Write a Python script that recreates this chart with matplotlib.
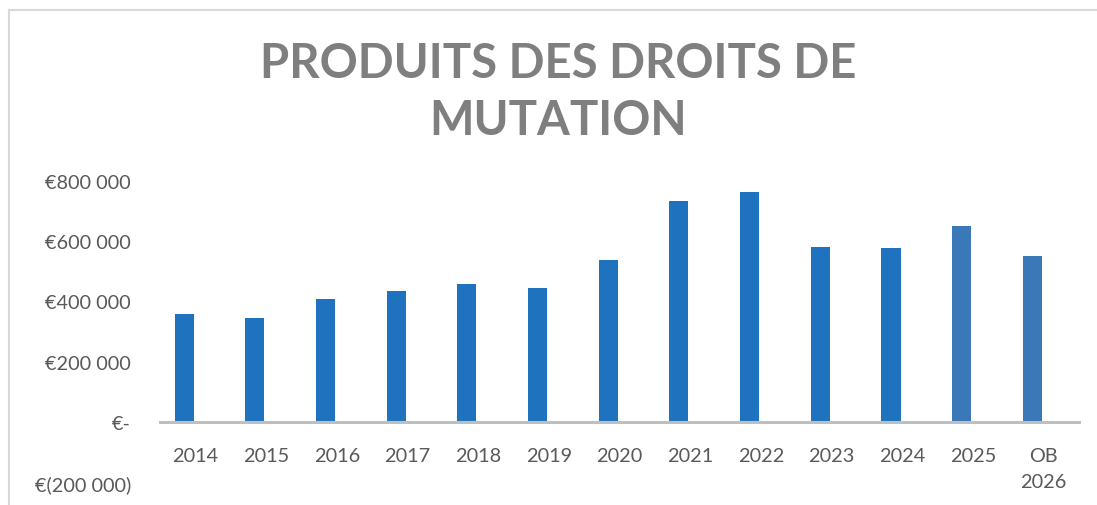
import matplotlib
matplotlib.use('Agg')
import matplotlib.pyplot as plt
from matplotlib.lines import Line2D

categories = ['2014', '2015', '2016', '2017', '2018', '2019', '2020',
              '2021', '2022', '2023', '2024', '2025', 'OB\n2026']
values = [357000, 345000, 408000, 434000, 458000, 443000, 537000,
          734000, 762000, 581000, 578000, 650000, 552000]
y_ticks = [-200000, 0, 200000, 400000, 600000, 800000]
y_labels = ['€(200 000)', '€-', '€200 000', '€400 000', '€600 000', '€800 000']
title_lines = ['PRODUITS DES DROITS DE', 'MUTATION']

plt.rcParams['font.family'] = ['Lato', 'DejaVu Sans']

fig = plt.figure(figsize=(10.97, 5.06), dpi=100)
ax = fig.add_axes([0.1459, 0.0441, 0.8377, 0.597])

colors = ['#1f73be'] * 11 + ['#3a78b8'] * 2
x = list(range(len(categories)))
ax.bar([i - 0.16 for i in x], values, width=0.27, color=colors, zorder=2)

ax.set_xlim(-0.5, len(categories) - 0.5)
ax.set_ylim(-200000, 800000)
ax.set_yticks(y_ticks)
ax.set_yticklabels(y_labels)
ax.set_xticks(x)
ax.set_xticklabels(categories)

for side in ['left', 'right', 'top']:
    ax.spines[side].set_visible(False)
ax.spines['bottom'].set_position(('data', 0))
ax.spines['bottom'].set_color('#bfbfbf')
ax.spines['bottom'].set_linewidth(2.2)
ax.spines['bottom'].set_zorder(3)

ax.tick_params(axis='x', length=0, pad=18, labelsize=14.3, labelcolor='#595959')
ax.tick_params(axis='y', length=0, pad=21, labelsize=14.3, labelcolor='#595959')
for lbl in ax.get_xticklabels():
    lbl.set_linespacing(1.6)

# title, two lines placed by baseline
for line, base in zip(title_lines, [78, 135]):
    fig.text(0.5087, 1 - base / 506, line, ha='center', va='baseline',
             fontsize=34, fontweight='bold', color='#7f7f7f')

# chart frame (cut off at right and bottom)
fig.add_artist(Line2D([9 / 1097, 1.0], [1 - 11 / 506, 1 - 11 / 506],
                      color='#d9d9d9', lw=1.5))
fig.add_artist(Line2D([9 / 1097, 9 / 1097], [0.0, 1 - 11 / 506],
                      color='#d9d9d9', lw=1.5))

fig.savefig('out.png', dpi=100)
